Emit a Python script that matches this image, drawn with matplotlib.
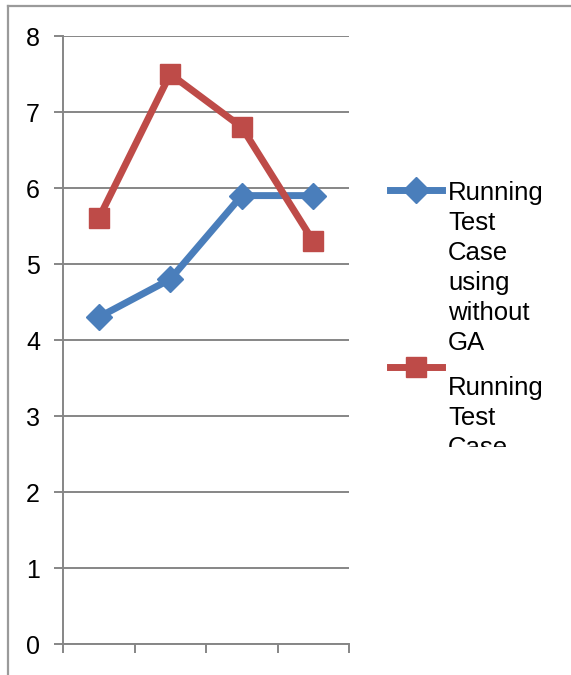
import matplotlib
matplotlib.use("Agg")
import matplotlib.pyplot as plt
from matplotlib.lines import Line2D
from matplotlib.transforms import Bbox

# data
categories = [1, 2, 3, 4]
without_ga = [4.3, 4.8, 5.9, 5.9]
using_ga = [5.6, 7.5, 6.8, 5.3]
labels = ["Running\nTest\nCase\nusing\nwithout\nGA", "Running\nTest\nCase\nusing GA"]
y_ticks = [0, 1, 2, 3, 4, 5, 6, 7, 8]

blue = "#4A7EBB"
red = "#BE4B48"
gray = "#868686"

plt.rcParams["font.family"] = ["Liberation Sans", "DejaVu Sans"]

W, H = 571, 675
fig = plt.figure(figsize=(W / 100, H / 100), dpi=100)
ax = fig.add_axes([63 / W, 1 - 644 / H, 286 / W, 608 / H])

x = [c - 0.5 for c in categories]
ax.plot(x, without_ga, color=blue, lw=5, marker="D", ms=13, mec=blue, zorder=3)
ax.plot(x, using_ga, color=red, lw=5, marker="s", ms=14, mec=red, zorder=4)

ax.set_xlim(0, len(categories))
ax.set_ylim(0, 8)
ax.set_yticks(y_ticks)
ax.set_xticks(range(len(categories) + 1))
ax.set_xticklabels([])
ax.grid(axis="y", color=gray, lw=1.4)
ax.set_axisbelow(True)
for s in ["top", "right"]:
    ax.spines[s].set_visible(False)
for s in ["left", "bottom"]:
    ax.spines[s].set_color(gray)
    ax.spines[s].set_linewidth(1.4)
ax.tick_params(axis="y", length=6.5, width=1.4, color=gray, pad=10, labelsize=18)
ax.tick_params(axis="x", length=6.5, width=1.4, color=gray)

# outer frame (only top and left visible)
fig.add_artist(Line2D([8 / W, 1], [1 - 6 / H, 1 - 6 / H], color="#9a9a9a", lw=1.6))
fig.add_artist(Line2D([8 / W, 8 / W], [0, 1 - 6 / H], color="#9a9a9a", lw=1.6))

# legend, clipped at the bottom like the original
clip = Bbox.from_extents(380, H - 447, W, H - 170)
entries = [(blue, "D", 13, 190, 200, labels[0]), (red, "s", 14, 367, 395, labels[1])]
for color, mk, ms, yc, base, lab in entries:
    fig.add_artist(Line2D([390 / W, 442 / W], [1 - yc / H, 1 - yc / H], color=color, lw=5))
    fig.add_artist(Line2D([416 / W], [1 - yc / H], color=color, marker=mk, ms=ms, mec=color))
    for i, line in enumerate(lab.split("\n")):
        t = fig.text(448 / W, 1 - (base + 30 * i) / H, line, fontsize=18.5,
                     va="baseline", ha="left")
        t.set_clip_box(clip)
        t.set_clip_on(True)

fig.savefig("out.png", dpi=100)
